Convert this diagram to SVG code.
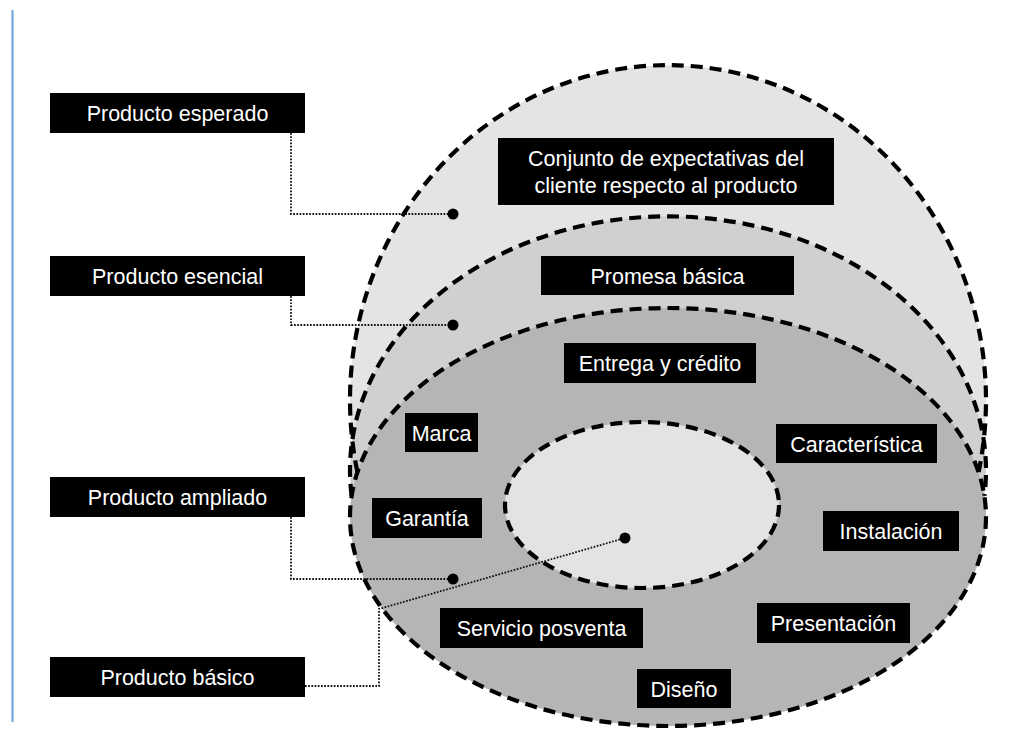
<svg xmlns="http://www.w3.org/2000/svg" width="1011" height="746" viewBox="0 0 1011 746">
  <style>
    .ring { stroke: none; }
    .edge { fill: none; stroke: #000; stroke-width: 4.2; stroke-dasharray: 12 7; }
    .box { fill: #000; }
    .lbl { fill: #fff; font-family: "Liberation Sans", Arial, sans-serif; font-size: 21.5px; text-anchor: middle; }
    .dot-line { fill: none; stroke: #111; stroke-width: 1.8; stroke-dasharray: 1.7 1.5; }
    .pin { fill: #000; }
  </style>

  <rect width="1011" height="746" fill="#fff"/>
  <line x1="12.5" y1="10" x2="12.5" y2="722" stroke="#6a9fdc" stroke-width="2"/>

  <!-- Concentric product levels -->
  <g id="levels">
    <path id="level-esperado" class="ring" fill="#e4e4e4"
          d="M357.4 472 A318 335 0 1 1 978.6 472 A318 209 0 1 1 357.4 472 Z"/>
    <path id="level-esencial" class="ring" fill="#d0d0d0"
          d="M351.6 495.8 A318 254 0 1 1 984.4 495.8 A318 209 0 1 1 351.6 495.8 Z"/>
    <ellipse id="level-ampliado" class="ring" fill="#b6b5b6" cx="668" cy="517" rx="318" ry="209"/>
    <ellipse id="level-basico" class="ring" fill="#e3e3e3" cx="642" cy="505" rx="137" ry="83"/>

    <path class="edge" d="M357.4 472 A318 335 0 1 1 978.6 472"/>
    <path class="edge" d="M351.6 495.8 A318 254 0 1 1 984.4 495.8"/>
    <ellipse class="edge" cx="668" cy="517" rx="318" ry="209"/>
    <ellipse class="edge" cx="642" cy="505" rx="137" ry="83"/>
  </g>

  <!-- Leader lines from the level names -->
  <g id="connectors">
    <path class="dot-line" d="M291 133 V214 H453"/>
    <path class="dot-line" d="M291 296 V325 H453"/>
    <path class="dot-line" d="M291 517 V579 H453"/>
    <path class="dot-line" d="M305 686 H379 V609 L625 538"/>
    <circle class="pin" cx="453" cy="214" r="5.5"/>
    <circle class="pin" cx="453" cy="325" r="5.5"/>
    <circle class="pin" cx="453" cy="579" r="5.5"/>
    <circle class="pin" cx="625" cy="538" r="5.5"/>
  </g>

  <!-- Level names -->
  <g id="producto-esperado">
    <rect class="box" x="50" y="93" width="255" height="40"/>
    <text class="lbl" x="177.5" y="121">Producto esperado</text>
  </g>
  <g id="producto-esencial">
    <rect class="box" x="50" y="256" width="255" height="40"/>
    <text class="lbl" x="177.5" y="284">Producto esencial</text>
  </g>
  <g id="producto-ampliado">
    <rect class="box" x="50" y="477" width="255" height="40"/>
    <text class="lbl" x="177.5" y="505">Producto ampliado</text>
  </g>
  <g id="producto-basico">
    <rect class="box" x="50" y="657" width="255" height="40"/>
    <text class="lbl" x="177.5" y="685">Producto básico</text>
  </g>

  <!-- Contents of each level -->
  <g id="conjunto">
    <rect class="box" x="498" y="138" width="336" height="67"/>
    <text class="lbl" x="666" y="166">Conjunto de expectativas del</text>
    <text class="lbl" x="666" y="193">cliente respecto al producto</text>
  </g>
  <g id="promesa">
    <rect class="box" x="541" y="256" width="253" height="39"/>
    <text class="lbl" x="667.5" y="283.5">Promesa básica</text>
  </g>
  <g id="entrega">
    <rect class="box" x="564" y="343" width="192" height="40"/>
    <text class="lbl" x="660" y="371">Entrega y crédito</text>
  </g>
  <g id="marca">
    <rect class="box" x="405" y="413" width="73" height="39"/>
    <text class="lbl" x="441.5" y="440.5">Marca</text>
  </g>
  <g id="caracteristica">
    <rect class="box" x="776" y="424" width="161" height="39"/>
    <text class="lbl" x="856.5" y="451.5">Característica</text>
  </g>
  <g id="garantia">
    <rect class="box" x="372" y="498" width="110" height="40"/>
    <text class="lbl" x="427" y="526">Garantía</text>
  </g>
  <g id="instalacion">
    <rect class="box" x="823" y="511" width="136" height="40"/>
    <text class="lbl" x="891" y="539">Instalación</text>
  </g>
  <g id="servicio">
    <rect class="box" x="440" y="608" width="203" height="40"/>
    <text class="lbl" x="541.5" y="636">Servicio posventa</text>
  </g>
  <g id="presentacion">
    <rect class="box" x="757" y="603" width="153" height="40"/>
    <text class="lbl" x="833.5" y="631">Presentación</text>
  </g>
  <g id="diseno">
    <rect class="box" x="637" y="669" width="94" height="39"/>
    <text class="lbl" x="684" y="697">Diseño</text>
  </g>
</svg>
